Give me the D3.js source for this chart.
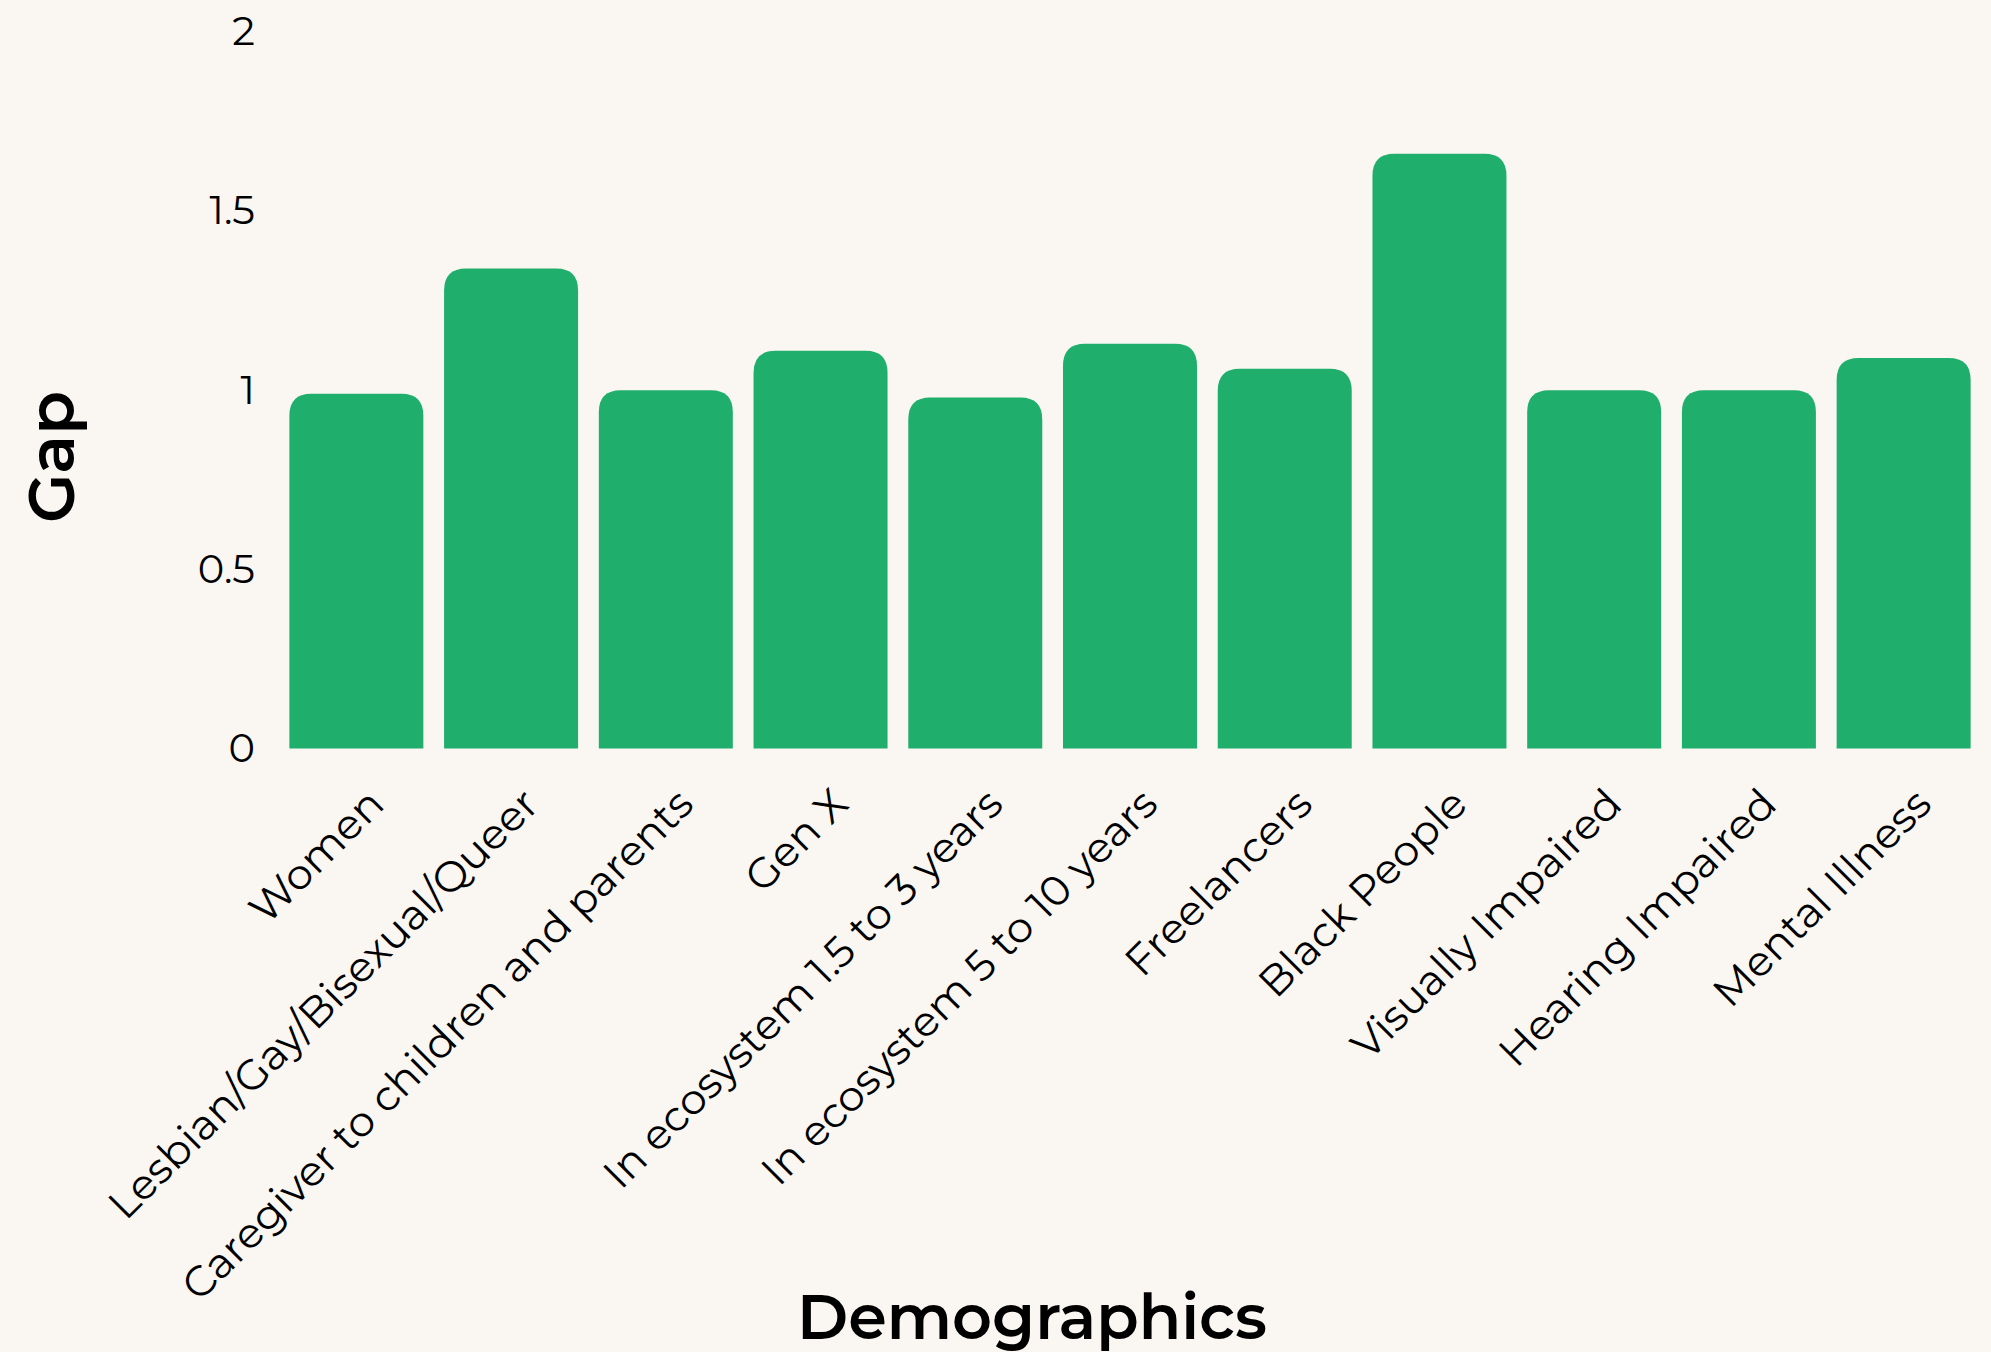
<!DOCTYPE html>
<html>
<head>
<meta charset="utf-8">
<script src="https://cdn.jsdelivr.net/npm/d3@7"></script>
<style>
  html, body { margin: 0; padding: 0; background: #FAF7F2; }
  svg { display: block; }
  text { font-family: Montserrat, "DejaVu Sans", sans-serif; fill: #000; }
</style>
</head>
<body>
<svg id="chart" width="1991" height="1352"></svg>
<script>
// Demographic groups and their gap values
const categories = [
  "Women",
  "Lesbian/Gay/Bisexual/Queer",
  "Caregiver to children and parents",
  "Gen X",
  "In ecosystem 1.5 to 3 years",
  "In ecosystem 5 to 10 years",
  "Freelancers",
  "Black People",
  "Visually Impaired",
  "Hearing Impaired",
  "Mental Illness"
];
const gapValues = [0.99, 1.34, 1.00, 1.11, 0.98, 1.13, 1.06, 1.66, 1.00, 1.00, 1.09];
const yTicks = [0, 0.5, 1, 1.5, 2];

const svg = d3.select("#chart");
const barColor = "#1FAE6B";
const fontStack = 'Montserrat, "DejaVu Sans", sans-serif';

const x = d3.scaleBand()
  .domain(categories)
  .range([279, 1981])
  .paddingInner(0.134)
  .paddingOuter(0.067);

const y = d3.scaleLinear()
  .domain([0, 2])
  .range([748.5, 32]);

// Bars with rounded top corners only
const r = 22;
function barPath(x0, w, yTop, yBase) {
  const rr = Math.min(r, w / 2, (yBase - yTop));
  return `M${x0},${yBase}` +
         `V${yTop + rr}` +
         `Q${x0},${yTop} ${x0 + rr},${yTop}` +
         `H${x0 + w - rr}` +
         `Q${x0 + w},${yTop} ${x0 + w},${yTop + rr}` +
         `V${yBase}Z`;
}

svg.append("g")
  .selectAll("path")
  .data(categories.map((c, i) => ({ c, v: gapValues[i] })))
  .join("path")
  .attr("fill", barColor)
  .attr("d", d => barPath(x(d.c), x.bandwidth(), y(d.v), y(0)));

// Y axis: labels only
const yAxis = svg.append("g")
  .attr("transform", "translate(289,0)")
  .call(d3.axisLeft(y).tickValues(yTicks).tickSize(0).tickPadding(34).tickFormat(d => String(d)));
yAxis.select(".domain").remove();
yAxis.selectAll("text")
  .style("font-family", fontStack)
  .attr("font-size", 40)
  .attr("fill", "#000");

// X axis: rotated category labels
const xAxis = svg.append("g")
  .attr("transform", `translate(0,${y(0)})`)
  .call(d3.axisBottom(x).tickSize(0).tickPadding(0));
xAxis.select(".domain").remove();
xAxis.selectAll("text")
  .style("font-family", fontStack)
  .attr("font-size", 42)
  .attr("fill", "#000")
  .attr("text-anchor", "end")
  .attr("y", 0)
  .attr("dy", 0)
  .attr("transform", "translate(30,58) rotate(-45)");

// Axis titles
svg.append("text")
  .attr("transform", "translate(74,457) rotate(-90)")
  .attr("text-anchor", "middle")
  .attr("font-size", 64)
  .attr("font-weight", 600)
  .style("font-family", fontStack)
  .text("Gap");

svg.append("text")
  .attr("x", 1032)
  .attr("y", 1339)
  .attr("text-anchor", "middle")
  .attr("font-size", 62)
  .attr("font-weight", 600)
  .style("font-family", fontStack)
  .text("Demographics");
</script>
</body>
</html>
